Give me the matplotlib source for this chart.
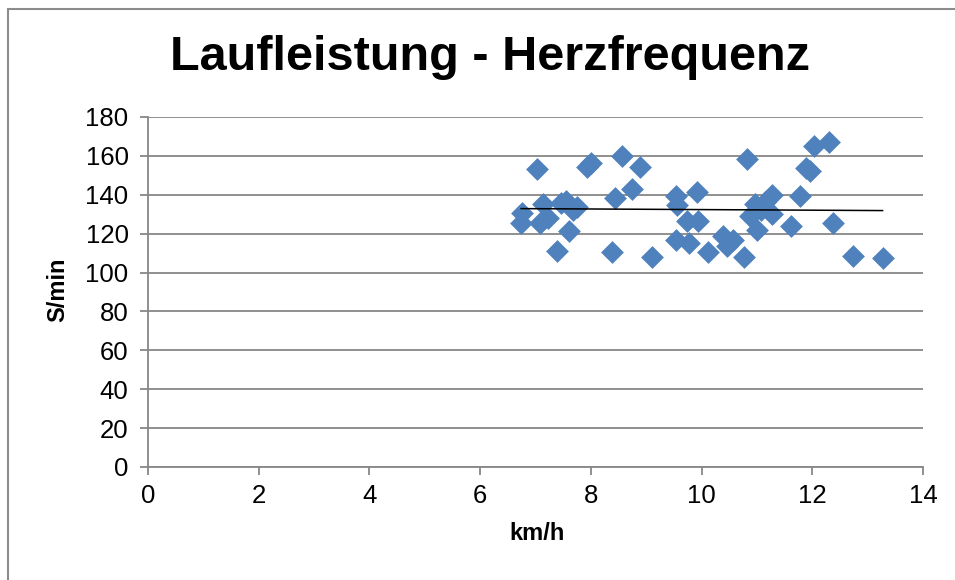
import numpy as np
import matplotlib
matplotlib.use("Agg")
import matplotlib.pyplot as plt
from matplotlib.patches import Rectangle

plt.rcParams["font.family"] = ["Liberation Sans", "DejaVu Sans"]

# Laufleistung (km/h) und Herzfrequenz (S/min)
speed = [6.74, 6.76, 7.03, 7.08, 7.14, 7.23, 7.39, 7.46, 7.55, 7.60,
         7.68, 7.75, 7.93, 8.00, 8.38, 8.43, 8.56, 8.74, 8.89, 9.10,
         9.54, 9.55, 9.54, 9.73, 9.77, 9.92, 9.94, 10.12, 10.39, 10.46,
         10.57, 10.77, 10.82, 10.88, 10.97, 11.01, 11.07, 11.14, 11.28, 11.28,
         11.61, 11.77, 11.88, 11.96, 12.03, 12.30, 12.37, 12.73, 13.27]
heart = [125.5, 130.6, 153.3, 125.5, 135.3, 128.1, 111.1, 135.8, 136.8, 121.4,
         132.0, 133.7, 154.3, 156.4, 110.6, 138.4, 160.0, 143.0, 154.3, 108.0,
         139.4, 134.8, 116.8, 126.5, 115.2, 141.5, 126.5, 110.6, 118.8, 113.7,
         116.8, 108.0, 158.4, 129.1, 135.3, 121.9, 132.2, 136.3, 139.9, 130.1,
         124.0, 139.4, 153.8, 152.3, 165.1, 167.2, 125.5, 108.5, 107.5]

x_ticks = [0, 2, 4, 6, 8, 10, 12, 14]
y_ticks = [0, 20, 40, 60, 80, 100, 120, 140, 160, 180]

fig = plt.figure(figsize=(9.55, 5.8), dpi=100)
ax = fig.add_axes([148 / 955, 1 - 467 / 580, 775 / 955, 350 / 580])

grid_color = "#878787"
ax.set_axisbelow(True)
ax.grid(axis="y", color=grid_color, linewidth=1.3)

ax.scatter(speed, heart, marker="D", s=135, color="#4F81BD", linewidths=0, zorder=3)

# linearer Trend
slope, intercept = np.polyfit(speed, heart, 1)
xs = np.array([min(speed), max(speed)])
ax.plot(xs, slope * xs + intercept, color="black", linewidth=1.1, zorder=4)

ax.set_xlim(0, 14)
ax.set_ylim(0, 180)
ax.set_xticks(x_ticks)
ax.set_yticks(y_ticks)
ax.tick_params(axis="both", labelsize=18.5, color=grid_color, length=6, width=1.3)
ax.tick_params(axis="x", pad=6)
ax.tick_params(axis="y", pad=8)

for side in ["top", "right"]:
    ax.spines[side].set_visible(False)
for side in ["left", "bottom"]:
    ax.spines[side].set_color(grid_color)
    ax.spines[side].set_linewidth(1.3)

fig.text(490 / 955, 1 - 57 / 580, "Laufleistung - Herzfrequenz",
         fontsize=35, fontweight="bold", ha="center", va="center")
fig.text(537 / 955, 1 - 533 / 580, "km/h", fontsize=17, fontweight="bold",
         ha="center", va="center")
fig.text(58 / 955, 1 - 290 / 580, "S/min", fontsize=17, fontweight="bold",
         ha="center", va="center", rotation=90)

fig.patches.append(Rectangle((8 / 955, -0.01), 1.0, 1 - 9 / 580 + 0.01,
                             transform=fig.transFigure, fill=False,
                             edgecolor="#8c8c8c", linewidth=1.5))

fig.savefig("out.png", dpi=100)
